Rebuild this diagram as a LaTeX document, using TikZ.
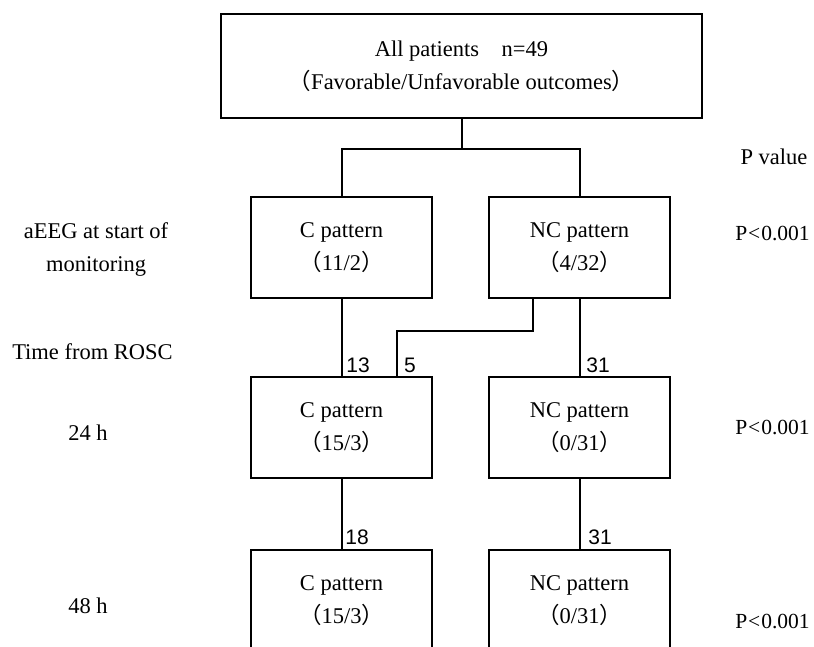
\documentclass[tikz,border=0pt]{standalone}
\usepackage{fontspec}
\setmainfont{Liberation Serif}
\newfontfamily\numfont{Liberation Sans}
\newfontfamily\cjk{Noto Sans CJK SC}
\newcommand{\lpar}{{\cjk （}}
\newcommand{\rpar}{{\cjk ）}}
\tikzset{
  pbox/.style={draw, line width=2pt, minimum width=181pt, minimum height=101pt,
    inner sep=0pt, align=center},
  count/.style={font=\numfont\fontsize{21}{24}\selectfont, inner sep=0pt},
  side/.style={align=center, inner sep=0pt},
  pnote/.style={inner sep=0pt, font=\fontsize{21.5}{24}\selectfont}
}
\begin{document}
\begin{tikzpicture}[x=1pt, y=-1pt, font=\fontsize{22.5}{33}\selectfont, line width=2pt]
  \useasboundingbox (0,0) rectangle (814,647);
  \path
    (461.5,66) node[pbox, minimum width=481pt, minimum height=104pt] (all)
      {All patients\hspace{1em}n=49\\\lpar Favorable/Unfavorable outcomes\rpar}
    (341.5,247.5) node[pbox] (c1) {C pattern\\\lpar 11/2\rpar}
    (579.5,247.5) node[pbox] (nc1) {NC pattern\\\lpar 4/32\rpar}
    (341.5,427.5) node[pbox] (c2) {C pattern\\\lpar 15/3\rpar}
    (579.5,427.5) node[pbox] (nc2) {NC pattern\\\lpar 0/31\rpar}
    (341.5,600.5) node[pbox] (c3) {C pattern\\\lpar 15/3\rpar}
    (579.5,600.5) node[pbox] (nc3) {NC pattern\\\lpar 0/31\rpar};
  % row labels
  \path
    (96,250) node[side] (start) {aEEG at start of\\monitoring}
    (92.5,352) node[side] (rosc) {Time from ROSC}
    (88,433) node[side] (h24) {24 h}
    (88,606) node[side] (h48) {48 h}
    (774,157) node[side] (pval) {P value}
    (772.5,234) node[pnote] (p1) {P\hspace{1pt}<\hspace{1pt}0.001}
    (772.5,428) node[pnote] (p2) {P\hspace{1pt}<\hspace{1pt}0.001}
    (772.5,621) node[pnote] (p3) {P\hspace{1pt}<\hspace{1pt}0.001};
  % counts on the links
  \path
    (358,365) node[count] (n13) {13}
    (410,365) node[count] (n5) {5}
    (598,365) node[count] (n31a) {31}
    (357,537) node[count] (n18) {18}
    (600,537) node[count] (n31b) {31};
  \begin{scope}[-]
    \draw (all.south) -- ++(0,30) coordinate (split);
    \draw (c1.north) |- (split) -| (nc1.north);
    \draw (c1) to (c2);
    \draw (nc1) to (nc2);
    \draw ([xshift=-46.5pt]nc1.south) -- ++(0,32) -| ([xshift=55.5pt]c2.north);
    \draw (c2) to (c3);
    \draw (nc2) to (nc3);
  \end{scope}
\end{tikzpicture}
\end{document}
